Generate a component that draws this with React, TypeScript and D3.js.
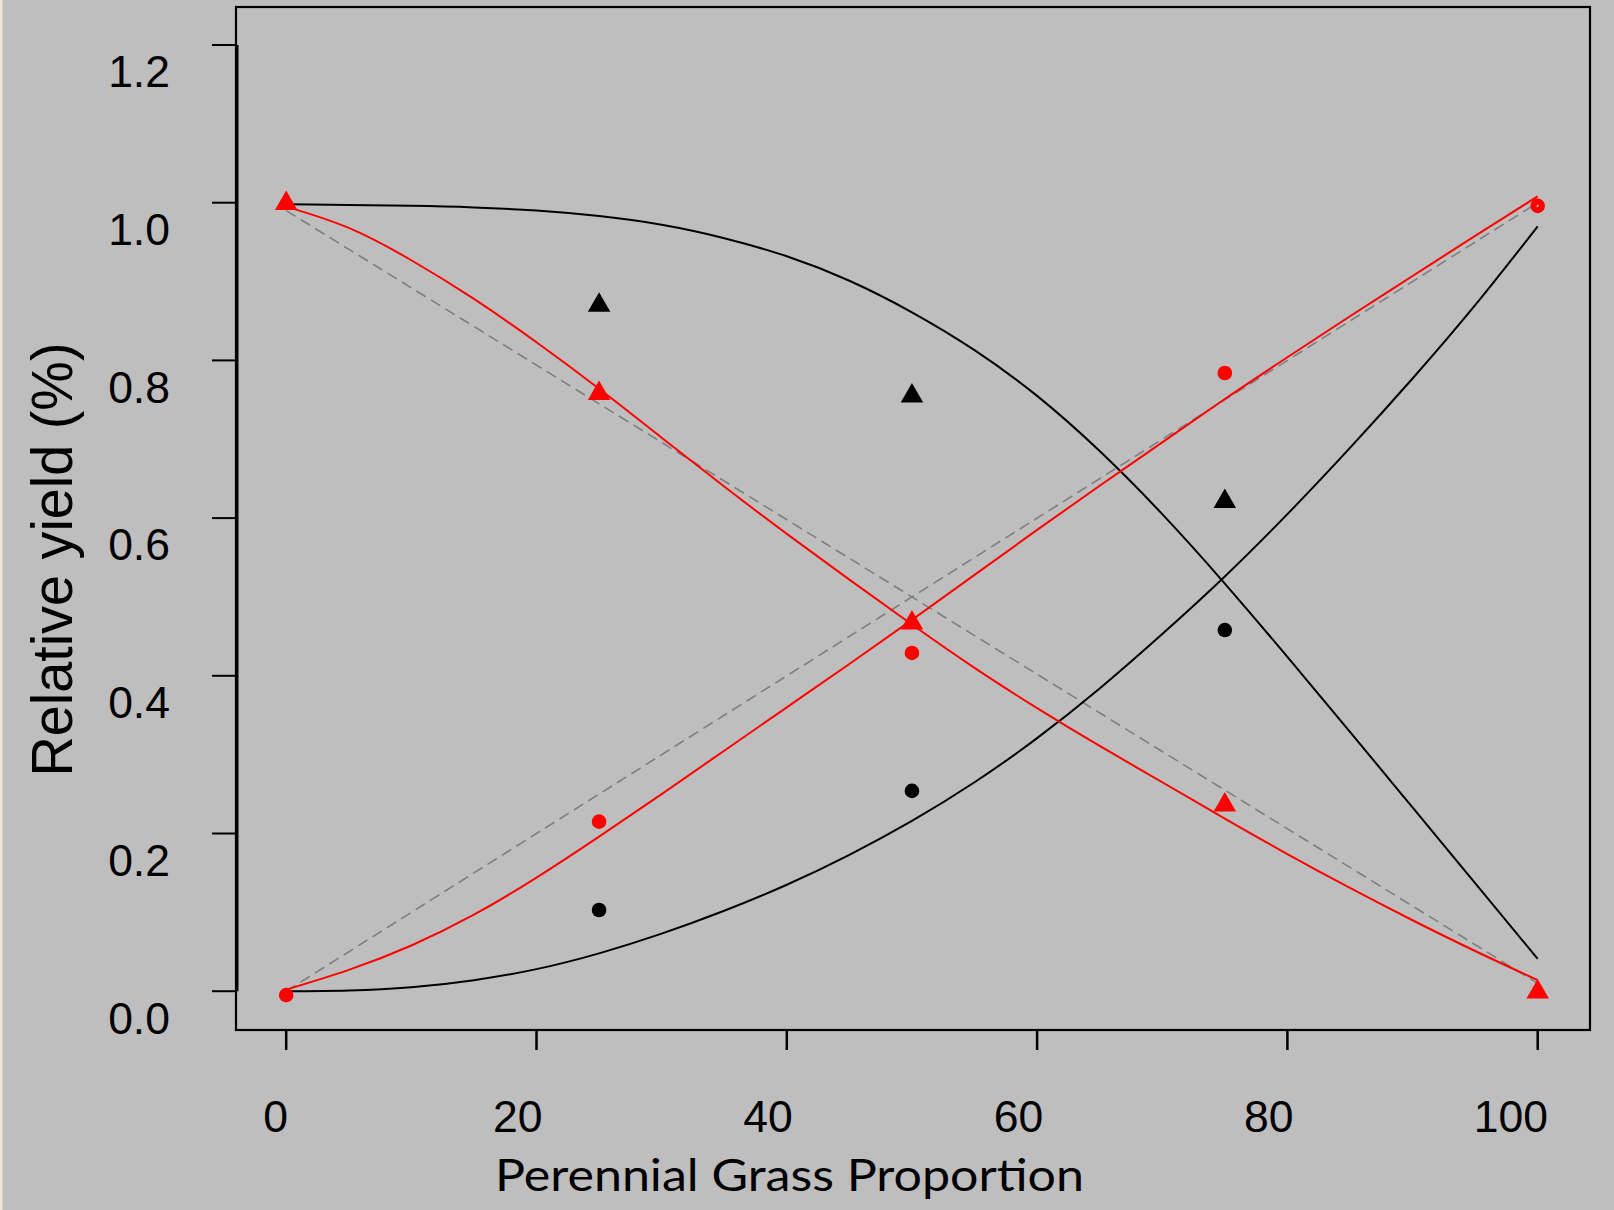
import React from "react";
import * as d3 from "d3";

// ---- data ----
const xTicks = [0, 20, 40, 60, 80, 100];
const yTicks = [0, 0.2, 0.4, 0.6, 0.8, 1.0, 1.2];
const yTickLabels = ["0.0", "0.2", "0.4", "0.6", "0.8", "1.0", "1.2"];

// fitted curves, sampled at these proportions
const fitX = [0, 5, 10, 15, 20, 25, 30, 35, 40, 45, 50, 55, 60, 65, 70, 75, 80, 85, 90, 95, 100];
const blackDecFit = [0.998, 0.997, 0.996, 0.994, 0.99, 0.983, 0.972, 0.955, 0.932, 0.901, 0.861, 0.813, 0.755, 0.685, 0.605, 0.517, 0.424, 0.329, 0.233, 0.137, 0.041];
const blackIncFit = [0.0, 0.001, 0.005, 0.014, 0.028, 0.048, 0.073, 0.102, 0.135, 0.173, 0.216, 0.265, 0.321, 0.384, 0.453, 0.526, 0.605, 0.689, 0.777, 0.87, 0.97];
const redDecFit = [0.995, 0.968, 0.927, 0.878, 0.823, 0.764, 0.702, 0.64, 0.58, 0.522, 0.465, 0.41, 0.359, 0.311, 0.265, 0.219, 0.174, 0.131, 0.09, 0.051, 0.014];
const redIncFit = [0.002, 0.027, 0.058, 0.097, 0.144, 0.196, 0.25, 0.305, 0.36, 0.415, 0.471, 0.528, 0.585, 0.641, 0.696, 0.751, 0.804, 0.856, 0.907, 0.958, 1.008];

// expected (no-interaction) dashed lines
const refX = [0, 100];
const refDec = [0.99, 0.01];
const refInc = [0.0, 1.0];

// observed points
const obsXMid = [25, 50, 75];
const blackTriangles = [0.87, 0.755, 0.621];
const blackCircles = [0.103, 0.254, 0.458];
const obsXAll = [0, 25, 50, 75, 100];
const redCircles = [-0.005, 0.215, 0.429, 0.784, 0.996];
const redTriangles = [0.999, 0.758, 0.467, 0.236, -0.001];

const W = 1614;
const H = 1210;
const BG = "#BEBEBE";

export default function App() {
  const x = d3.scaleLinear().domain([0, 100]).range([286.2, 1537.7]);
  const y = d3.scaleLinear().domain([0, 1.2]).range([991.2, 45.0]);

  const line = d3
    .line<[number, number]>()
    .x((d) => x(d[0]))
    .y((d) => y(d[1]))
    .curve(d3.curveNatural);
  const straight = d3
    .line<[number, number]>()
    .x((d) => x(d[0]))
    .y((d) => y(d[1]));

  const zip = (xs: number[], ys: number[]) => xs.map((v, i) => [v, ys[i]] as [number, number]);

  const tri = (cx: number, cy: number, r = 13) => {
    const hb = (r * Math.sqrt(3)) / 2;
    return `M${cx},${cy - r}L${cx + hb},${cy + r / 2}L${cx - hb},${cy + r / 2}Z`;
  };

  const box = { l: 236, t: 7, r: 1590, b: 1030 };
  const yAxisX = 237;

  return (
    <svg
      width={W}
      height={H}
      viewBox={`0 0 ${W} ${H}`}
      style={{ position: "absolute", left: 0, top: 0, display: "block" }}
    >
      <rect x={0} y={0} width={W} height={H} fill={BG} />
      <rect x={0} y={0} width={2.5} height={H} fill="#ECE6D6" />

      {/* plot box */}
      <rect
        x={box.l}
        y={box.t}
        width={box.r - box.l}
        height={box.b - box.t}
        fill="none"
        stroke="#000"
        strokeWidth={2.2}
      />

      {/* y axis */}
      <line x1={yAxisX} x2={yAxisX} y1={y(1.2)} y2={y(0)} stroke="#000" strokeWidth={3} />
      {yTicks.map((t, i) => (
        <g key={"yt" + i}>
          <line x1={212} x2={yAxisX} y1={y(t)} y2={y(t)} stroke="#000" strokeWidth={2} />
          <text
            x={170}
            y={y(t) + 42.3}
            textAnchor="end"
            fontFamily="'Liberation Sans', Arial, sans-serif"
            fontSize={44.5}
            fill="#000"
          >
            {yTickLabels[i]}
          </text>
        </g>
      ))}

      {/* x axis ticks */}
      {xTicks.map((t, i) => {
        const lab = String(t);
        return (
          <g key={"xt" + i}>
            <line x1={x(t)} x2={x(t)} y1={box.b} y2={1050} stroke="#000" strokeWidth={2.5} />
            <text
              x={x(t) - (2.5 + 8.1 * lab.length)}
              y={1132}
              textAnchor="middle"
              fontFamily="'Liberation Sans', Arial, sans-serif"
              fontSize={44.5}
              fill="#000"
            >
              {lab}
            </text>
          </g>
        );
      })}

      {/* axis titles */}
      <text
        x={789.5}
        y={1190.7}
        textAnchor="middle"
        fontFamily="Lato, 'Open Sans', sans-serif"
        fontSize={44}
        textLength={589}
        lengthAdjust="spacingAndGlyphs"
        fill="#000"
      >
        Perennial Grass Proportion
      </text>
      <text
        transform="translate(71.7,559.5) rotate(-90)"
        textAnchor="middle"
        fontFamily="'Liberation Sans', Arial, sans-serif"
        fontSize={58}
        textLength={434}
        lengthAdjust="spacingAndGlyphs"
        fill="#000"
      >
        Relative yield (%)
      </text>

      {/* dashed reference lines */}
      <path d={straight(zip(refX, refDec)) || ""} fill="none" stroke="#7F7F7F" strokeWidth={1.6} strokeDasharray="11,6" />
      <path d={straight(zip(refX, refInc)) || ""} fill="none" stroke="#7F7F7F" strokeWidth={1.6} strokeDasharray="11,6" />

      {/* fitted curves */}
      <path d={line(zip(fitX, blackDecFit)) || ""} fill="none" stroke="#000" strokeWidth={2} />
      <path d={line(zip(fitX, blackIncFit)) || ""} fill="none" stroke="#000" strokeWidth={2} />
      <path d={line(zip(fitX, redDecFit)) || ""} fill="none" stroke="#FF0000" strokeWidth={2} />
      <path d={line(zip(fitX, redIncFit)) || ""} fill="none" stroke="#FF0000" strokeWidth={2} />

      {/* observed points */}
      {obsXMid.map((v, i) => (
        <path key={"bt" + i} d={tri(x(v), y(blackTriangles[i]))} fill="#000" />
      ))}
      {obsXMid.map((v, i) => (
        <circle key={"bc" + i} cx={x(v)} cy={y(blackCircles[i])} r={7.3} fill="#000" />
      ))}
      {obsXAll.map((v, i) => (
        <circle key={"rc" + i} cx={x(v)} cy={y(redCircles[i])} r={7.3} fill="#FF0000" />
      ))}
      {obsXAll.map((v, i) => (
        <path key={"rt" + i} d={tri(x(v), y(redTriangles[i]))} fill="#FF0000" />
      ))}
      <circle cx={x(100)} cy={y(redCircles[4])} r={1.1} fill="#E8C8C8" />
    </svg>
  );
}
